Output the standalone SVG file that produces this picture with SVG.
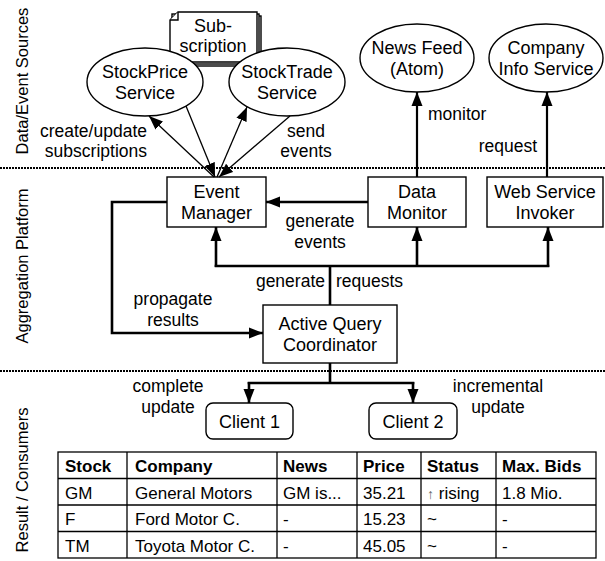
<svg xmlns="http://www.w3.org/2000/svg" width="605" height="561" viewBox="0 0 605 561">
<style>
text{font-family:"Liberation Sans",Arial,sans-serif;fill:#000}
.n{font-size:18px;text-anchor:middle}
.l{font-size:17.5px}
.c{text-anchor:middle}
.e{text-anchor:end}
.side{font-size:16.5px;text-anchor:middle}
.t{font-size:17px}
.th{font-size:17px;font-weight:bold}
.shape{fill:#fff;stroke:#000;stroke-width:1.4}
.sep{stroke:#000;stroke-width:2;stroke-dasharray:2 1;fill:none}
.thin{stroke:#000;stroke-width:1.3;fill:none}
.thick{stroke:#000;stroke-width:2.6;fill:none}
.mid{stroke:#000;stroke-width:2.2;fill:none}
.grid{stroke:#000;stroke-width:1.3;fill:none}
</style>
<defs>
<marker id="ah" markerUnits="userSpaceOnUse" markerWidth="14" markerHeight="12" refX="14" refY="5.5" orient="auto" viewBox="0 0 14 11">
<path d="M0,0 L14,5.5 L0,11 z" fill="#000"/>
</marker>
</defs>

<g id="separators">
<line class="sep" x1="0" y1="168" x2="605" y2="168"/>
<line class="sep" x1="0" y1="371" x2="605" y2="371"/>
</g>

<g id="lane-labels">
<text class="side" transform="translate(28,81) rotate(-90)">Data/Event Sources</text>
<text class="side" transform="translate(28,266) rotate(-90)">Aggregation Platform</text>
<text class="side" transform="translate(28,480) rotate(-90)">Result / Consumers</text>
</g>

<g id="subscription">
<rect class="shape" x="174" y="16" width="87" height="50"/>
<rect class="shape" x="172" y="14" width="87" height="50"/>
<path class="shape" d="M178,12 L257,12 L257,62 L170,62 L170,20 Z"/>
<path class="shape" d="M170,20 L178,20 L178,12" />
<text class="n" x="213" y="32">Sub-</text>
<text class="n" x="213" y="52">scription</text>
</g>

<g id="stockprice">
<ellipse class="shape" cx="145" cy="82" rx="58" ry="34"/>
<text class="n" x="145" y="78">StockPrice</text>
<text class="n" x="145" y="99">Service</text>
</g>

<g id="stocktrade">
<ellipse class="shape" cx="287" cy="82" rx="58" ry="34"/>
<text class="n" x="287" y="78">StockTrade</text>
<text class="n" x="287" y="99">Service</text>
</g>

<g id="newsfeed">
<ellipse class="shape" cx="417" cy="58" rx="57" ry="34"/>
<text class="n" x="417" y="54">News Feed</text>
<text class="n" x="417" y="75">(Atom)</text>
</g>

<g id="companyinfo">
<ellipse class="shape" cx="546" cy="58" rx="57" ry="34"/>
<text class="n" x="546" y="54">Company</text>
<text class="n" x="546" y="75">Info Service</text>
</g>

<g id="eventmanager">
<rect class="shape" x="167" y="177" width="99" height="50"/>
<text class="n" x="216.5" y="198">Event</text>
<text class="n" x="216.5" y="219">Manager</text>
</g>

<g id="datamonitor">
<rect class="shape" x="368" y="177" width="98" height="50"/>
<text class="n" x="417" y="198">Data</text>
<text class="n" x="417" y="219">Monitor</text>
</g>

<g id="wsinvoker">
<rect class="shape" x="487" y="177" width="116" height="50"/>
<text class="n" x="545" y="198">Web Service</text>
<text class="n" x="545" y="219">Invoker</text>
</g>

<g id="aqc">
<rect class="shape" x="263" y="305" width="134" height="58"/>
<text class="n" x="330" y="330">Active Query</text>
<text class="n" x="330" y="351">Coordinator</text>
</g>

<g id="client1">
<rect class="shape" x="206" y="403" width="87" height="36" rx="7"/>
<text class="n" x="249.5" y="428">Client 1</text>
</g>

<g id="client2">
<rect class="shape" x="369" y="403" width="88" height="36" rx="7"/>
<text class="n" x="413" y="428">Client 2</text>
</g>

<g id="connectors">
<line class="thin" x1="214" y1="177" x2="149" y2="116" marker-end="url(#ah)"/>
<line class="thin" x1="186" y1="106" x2="215" y2="177" marker-end="url(#ah)"/>
<line class="thin" x1="217" y1="177" x2="247" y2="107" marker-end="url(#ah)"/>
<line class="thin" x1="290" y1="116" x2="219" y2="177" marker-end="url(#ah)"/>
<polyline class="thick" points="167,202 112,202 112,333 263,333" marker-end="url(#ah)"/>
<line class="thick" x1="368" y1="202" x2="266" y2="202" marker-end="url(#ah)"/>
<line class="thick" x1="330" y1="305" x2="330" y2="266"/>
<line class="thick" x1="214.7" y1="266" x2="549.3" y2="266"/>
<line class="thick" x1="216" y1="267" x2="216" y2="227" marker-end="url(#ah)"/>
<line class="thick" x1="417" y1="267" x2="417" y2="227" marker-end="url(#ah)"/>
<line class="thick" x1="548" y1="267" x2="548" y2="227" marker-end="url(#ah)"/>
<line class="mid" x1="417" y1="177" x2="417" y2="92" marker-end="url(#ah)"/>
<line class="mid" x1="547" y1="177" x2="547" y2="92" marker-end="url(#ah)"/>
<line class="thick" x1="330" y1="363" x2="330" y2="383"/>
<line class="thick" x1="247.7" y1="383" x2="414.3" y2="383"/>
<line class="thick" x1="249" y1="382" x2="249" y2="403" marker-end="url(#ah)"/>
<line class="thick" x1="413" y1="382" x2="413" y2="403" marker-end="url(#ah)"/>
</g>

<g id="labels">
<text class="l e" x="147" y="137">create/update</text>
<text class="l e" x="147" y="157">subscriptions</text>
<text class="l c" x="306" y="137">send</text>
<text class="l c" x="306" y="157">events</text>
<text class="l" x="428" y="120">monitor</text>
<text class="l e" x="537" y="152">request</text>
<text class="l c" x="320" y="227">generate</text>
<text class="l c" x="320" y="248">events</text>
<text class="l e" x="325" y="287">generate</text>
<text class="l" x="336" y="287">requests</text>
<text class="l c" x="173" y="305">propagate</text>
<text class="l c" x="173" y="326">results</text>
<text class="l c" x="168" y="392">complete</text>
<text class="l c" x="168" y="413">update</text>
<text class="l c" x="498" y="392">incremental</text>
<text class="l c" x="498" y="413">update</text>
</g>

<g id="table">
<rect class="grid" x="58" y="452" width="538" height="106"/>
<line class="grid" x1="58" y1="478.5" x2="596" y2="478.5"/>
<line class="grid" x1="58" y1="505" x2="596" y2="505"/>
<line class="grid" x1="58" y1="531.5" x2="596" y2="531.5"/>
<line class="grid" x1="127" y1="452" x2="127" y2="558"/>
<line class="grid" x1="277" y1="452" x2="277" y2="558"/>
<line class="grid" x1="357" y1="452" x2="357" y2="558"/>
<line class="grid" x1="421" y1="452" x2="421" y2="558"/>
<line class="grid" x1="496" y1="452" x2="496" y2="558"/>
<text class="th" x="65" y="472">Stock</text>
<text class="th" x="135" y="472">Company</text>
<text class="th" x="283" y="472">News</text>
<text class="th" x="363" y="472">Price</text>
<text class="th" x="427" y="472">Status</text>
<text class="th" x="502" y="472">Max. Bids</text>
<text class="t" x="65" y="498.5">GM</text>
<text class="t" x="135" y="498.5">General Motors</text>
<text class="t" x="283" y="498.5">GM is...</text>
<text class="t" x="363" y="498.5">35.21</text>
<text class="t" x="427" y="498.5"><tspan fill="#666" font-size="14">↑</tspan> rising</text>
<text class="t" x="502" y="498.5">1.8 Mio.</text>
<text class="t" x="65" y="525">F</text>
<text class="t" x="135" y="525">Ford Motor C.</text>
<text class="t" x="283" y="525">-</text>
<text class="t" x="363" y="525">15.23</text>
<text class="t" x="427" y="525" font-size="13">~</text>
<text class="t" x="502" y="525">-</text>
<text class="t" x="65" y="551.5">TM</text>
<text class="t" x="135" y="551.5">Toyota Motor C.</text>
<text class="t" x="283" y="551.5">-</text>
<text class="t" x="363" y="551.5">45.05</text>
<text class="t" x="427" y="551.5" font-size="13">~</text>
<text class="t" x="502" y="551.5">-</text>
</g>
</svg>
